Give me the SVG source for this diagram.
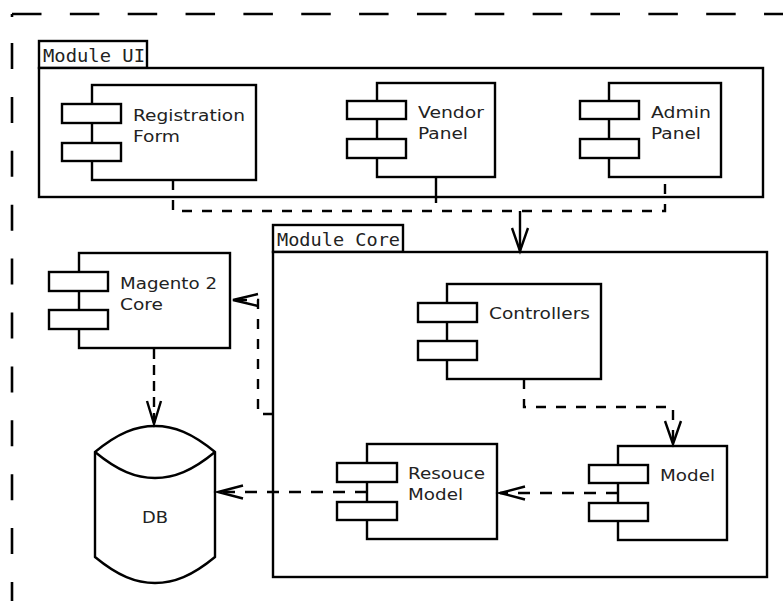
<svg xmlns="http://www.w3.org/2000/svg" width="783" height="601" viewBox="0 0 783 601">
<style>
.ln{fill:none;stroke:#000;stroke-width:2.4}
.box{fill:#fff;stroke:#000;stroke-width:2.4}
.frame{fill:none;stroke:#000;stroke-width:2.6}
.dash{fill:none;stroke:#000;stroke-width:2.4;stroke-dasharray:11 10}
.ah{fill:none;stroke:#000;stroke-width:2.4}
.t{font-family:"DejaVu Sans","Liberation Sans",sans-serif;font-size:16.5px;fill:#222}
.m{font-family:"DejaVu Sans Mono","Liberation Mono",monospace;font-size:17.5px;fill:#222}
</style>
<rect width="783" height="601" fill="#fff"/>
<g id="frame">
<line class="frame" x1="12" y1="14" x2="783" y2="14" style="stroke-dasharray:29.5 28.35"/>
<line class="frame" x1="12" y1="14" x2="12" y2="17"/>
<line class="frame" x1="12" y1="43" x2="12" y2="601" style="stroke-dasharray:26 27.9"/>
</g>
<g id="module-ui">
<rect class="box" x="39" y="41" width="108" height="27"/>
<text class="m" x="43" y="62" textLength="102" lengthAdjust="spacingAndGlyphs">Module UI</text>
<rect class="box" x="39" y="68" width="724" height="129"/>
</g>
<g id="module-core">
<rect class="box" x="273" y="225" width="130" height="27"/>
<text class="m" x="277" y="246" textLength="123" lengthAdjust="spacingAndGlyphs">Module Core</text>
<rect class="box" x="273" y="252" width="494" height="325"/>
</g>
<g id="registration-form">
<rect class="box" x="92" y="85" width="164" height="95"/>
<rect class="box" x="62" y="104" width="59" height="19"/>
<rect class="box" x="62" y="143" width="59" height="18"/>
<text class="t" x="133" y="121" textLength="112" lengthAdjust="spacingAndGlyphs">Registration</text>
<text class="t" x="133" y="142" textLength="47" lengthAdjust="spacingAndGlyphs">Form</text>
</g>
<g id="vendor-panel">
<rect class="box" x="377" y="83" width="118" height="94"/>
<rect class="box" x="347" y="101" width="59" height="18"/>
<rect class="box" x="347" y="139" width="59" height="19"/>
<text class="t" x="418" y="118" textLength="66" lengthAdjust="spacingAndGlyphs">Vendor</text>
<text class="t" x="418" y="139" textLength="50" lengthAdjust="spacingAndGlyphs">Panel</text>
</g>
<g id="admin-panel">
<rect class="box" x="609" y="83" width="112" height="94"/>
<rect class="box" x="580" y="101" width="59" height="18"/>
<rect class="box" x="580" y="139" width="59" height="19"/>
<text class="t" x="651" y="118" textLength="60" lengthAdjust="spacingAndGlyphs">Admin</text>
<text class="t" x="651" y="139" textLength="50" lengthAdjust="spacingAndGlyphs">Panel</text>
</g>
<g id="magento-core">
<rect class="box" x="79" y="253" width="151" height="95"/>
<rect class="box" x="49" y="272" width="59" height="19"/>
<rect class="box" x="49" y="310" width="59" height="19"/>
<text class="t" x="120" y="289" textLength="97" lengthAdjust="spacingAndGlyphs">Magento 2</text>
<text class="t" x="120" y="310" textLength="43" lengthAdjust="spacingAndGlyphs">Core</text>
</g>
<g id="db">
<path class="box" d="M95,452 C118,433 136,426 155,426 C174,426 192,433 215,452 V557 C192,576 174,583 155,583 C136,583 118,576 95,557 Z"/>
<path class="ln" d="M95,452 C118,471 136,478 155,478 C174,478 192,471 215,452"/>
<text class="t" x="155" y="523" text-anchor="middle" textLength="26" lengthAdjust="spacingAndGlyphs">DB</text>
</g>
<g id="controllers">
<rect class="box" x="447" y="284" width="154" height="95"/>
<rect class="box" x="418" y="303" width="59" height="19"/>
<rect class="box" x="418" y="341" width="59" height="19"/>
<text class="t" x="489" y="319" textLength="101" lengthAdjust="spacingAndGlyphs">Controllers</text>
</g>
<g id="resource-model">
<rect class="box" x="367" y="444" width="130" height="95"/>
<rect class="box" x="337" y="463" width="60" height="19"/>
<rect class="box" x="337" y="502" width="60" height="18"/>
<text class="t" x="408" y="479" textLength="77" lengthAdjust="spacingAndGlyphs">Resouce</text>
<text class="t" x="408" y="500" textLength="55" lengthAdjust="spacingAndGlyphs">Model</text>
</g>
<g id="model">
<rect class="box" x="618" y="446" width="109" height="94"/>
<rect class="box" x="589" y="465" width="59" height="18"/>
<rect class="box" x="589" y="503" width="59" height="18"/>
<text class="t" x="660" y="481" textLength="55" lengthAdjust="spacingAndGlyphs">Model</text>
</g>
<g id="connectors">
<path class="dash" d="M173,180 V211 H665 V177" style="stroke-dasharray:10 10"/>
<line class="ln" x1="436" y1="177" x2="436" y2="203"/>
<line class="ln" x1="520" y1="211" x2="520" y2="251"/>
<polyline class="ah" points="512,228 520,251 528,228"/>
<path class="dash" d="M273,414 H258 V300 H233" style="stroke-dasharray:10 10"/>
<polyline class="ah" points="258,294 233,300 258,306"/>
<path class="dash" d="M154,349 V423" style="stroke-dasharray:10 6"/>
<polyline class="ah" points="147,401 154,424 161,401"/>
<path class="dash" d="M367,492 H218" style="stroke-dasharray:12 10"/>
<polyline class="ah" points="243,485.5 218,492 243,498.5"/>
<path class="dash" d="M618,493 H500" style="stroke-dasharray:12 10"/>
<polyline class="ah" points="525,486.5 500,493 525,499.5"/>
<path class="dash" d="M524,379 V407 H673 V444" style="stroke-dasharray:10 10"/>
<polyline class="ah" points="665,421 673,444 681,421"/>
</g>
</svg>
